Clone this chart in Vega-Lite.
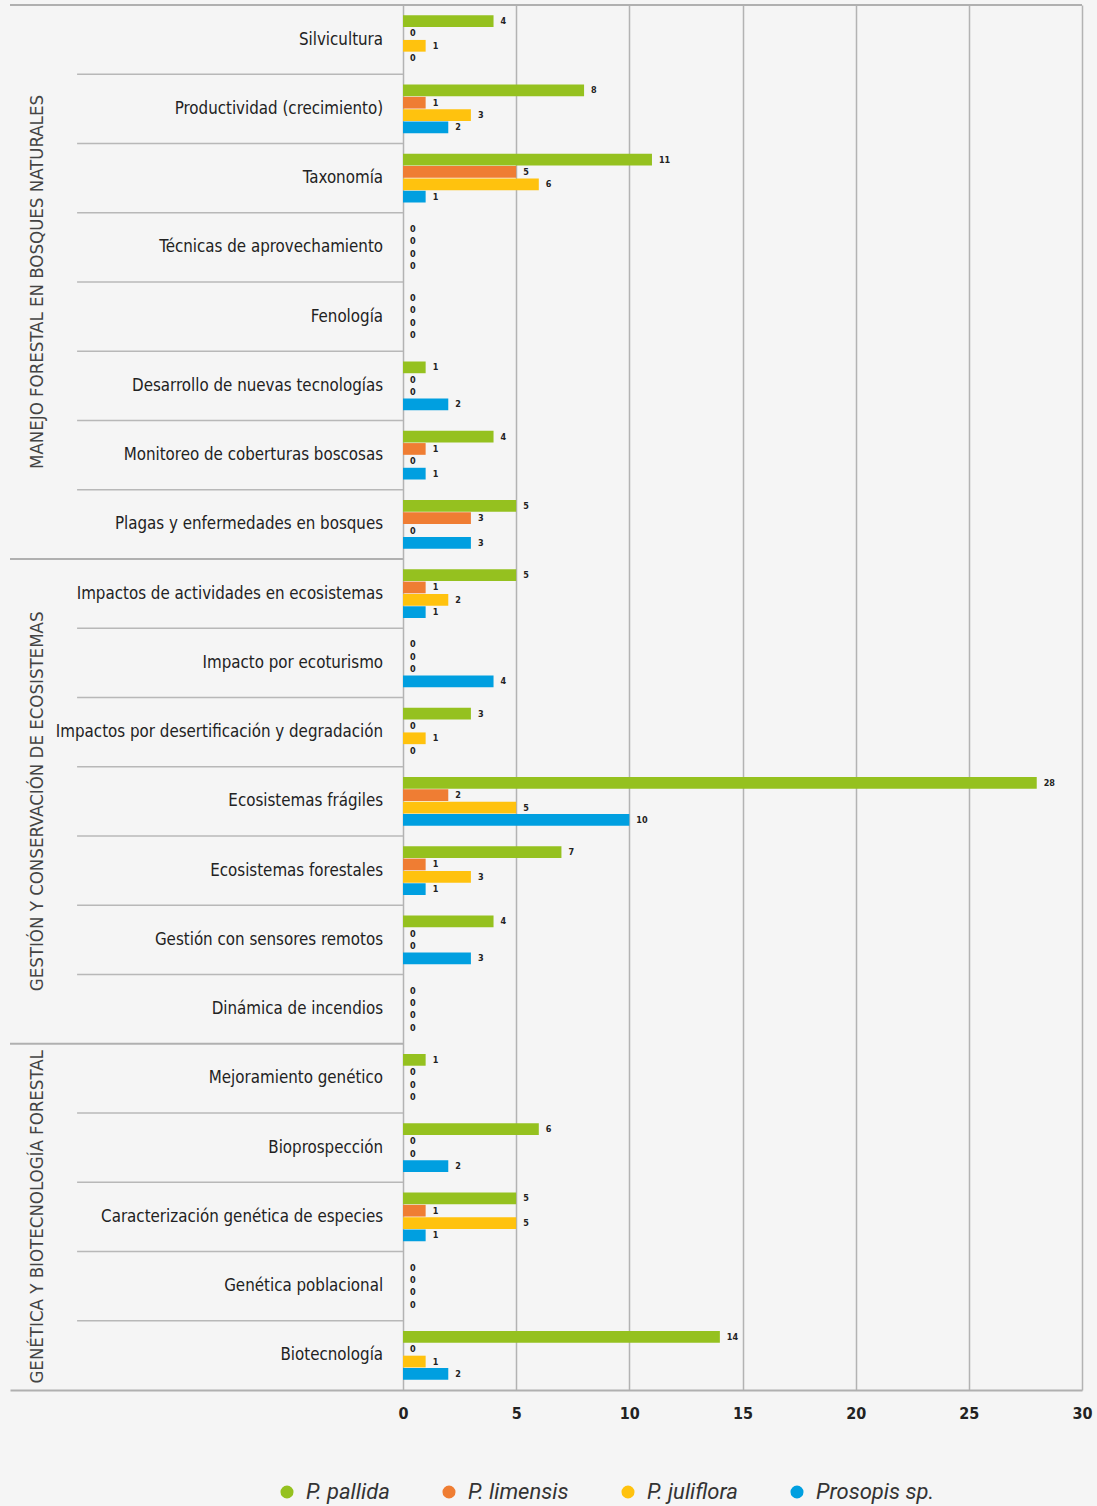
{
  "$schema": "https://vega.github.io/schema/vega-lite/v6.json",
  "width": 1072,
  "height": 1385,
  "autosize": {"type": "none"},
  "padding": {"left": 10, "top": 5, "right": 15, "bottom": 116},
  "background": "#f5f5f5",
  "config": {"view": {"stroke": null}, "font": "DejaVu Sans Condensed, Roboto, sans-serif"},
  "datasets": {
    "barras": [
      {"categoria": "Silvicultura", "especie": "P. pallida", "valor": 4},
      {"categoria": "Silvicultura", "especie": "P. limensis", "valor": 0},
      {"categoria": "Silvicultura", "especie": "P. juliflora", "valor": 1},
      {"categoria": "Silvicultura", "especie": "Prosopis sp.", "valor": 0},
      {"categoria": "Productividad (crecimiento)", "especie": "P. pallida", "valor": 8},
      {"categoria": "Productividad (crecimiento)", "especie": "P. limensis", "valor": 1},
      {"categoria": "Productividad (crecimiento)", "especie": "P. juliflora", "valor": 3},
      {"categoria": "Productividad (crecimiento)", "especie": "Prosopis sp.", "valor": 2},
      {"categoria": "Taxonomía", "especie": "P. pallida", "valor": 11},
      {"categoria": "Taxonomía", "especie": "P. limensis", "valor": 5},
      {"categoria": "Taxonomía", "especie": "P. juliflora", "valor": 6},
      {"categoria": "Taxonomía", "especie": "Prosopis sp.", "valor": 1},
      {"categoria": "Técnicas de aprovechamiento", "especie": "P. pallida", "valor": 0},
      {"categoria": "Técnicas de aprovechamiento", "especie": "P. limensis", "valor": 0},
      {"categoria": "Técnicas de aprovechamiento", "especie": "P. juliflora", "valor": 0},
      {"categoria": "Técnicas de aprovechamiento", "especie": "Prosopis sp.", "valor": 0},
      {"categoria": "Fenología", "especie": "P. pallida", "valor": 0},
      {"categoria": "Fenología", "especie": "P. limensis", "valor": 0},
      {"categoria": "Fenología", "especie": "P. juliflora", "valor": 0},
      {"categoria": "Fenología", "especie": "Prosopis sp.", "valor": 0},
      {"categoria": "Desarrollo de nuevas tecnologías", "especie": "P. pallida", "valor": 1},
      {"categoria": "Desarrollo de nuevas tecnologías", "especie": "P. limensis", "valor": 0},
      {"categoria": "Desarrollo de nuevas tecnologías", "especie": "P. juliflora", "valor": 0},
      {"categoria": "Desarrollo de nuevas tecnologías", "especie": "Prosopis sp.", "valor": 2},
      {"categoria": "Monitoreo de coberturas boscosas", "especie": "P. pallida", "valor": 4},
      {"categoria": "Monitoreo de coberturas boscosas", "especie": "P. limensis", "valor": 1},
      {"categoria": "Monitoreo de coberturas boscosas", "especie": "P. juliflora", "valor": 0},
      {"categoria": "Monitoreo de coberturas boscosas", "especie": "Prosopis sp.", "valor": 1},
      {"categoria": "Plagas y enfermedades en bosques", "especie": "P. pallida", "valor": 5},
      {"categoria": "Plagas y enfermedades en bosques", "especie": "P. limensis", "valor": 3},
      {"categoria": "Plagas y enfermedades en bosques", "especie": "P. juliflora", "valor": 0},
      {"categoria": "Plagas y enfermedades en bosques", "especie": "Prosopis sp.", "valor": 3},
      {"categoria": "Impactos de actividades en ecosistemas", "especie": "P. pallida", "valor": 5},
      {"categoria": "Impactos de actividades en ecosistemas", "especie": "P. limensis", "valor": 1},
      {"categoria": "Impactos de actividades en ecosistemas", "especie": "P. juliflora", "valor": 2},
      {"categoria": "Impactos de actividades en ecosistemas", "especie": "Prosopis sp.", "valor": 1},
      {"categoria": "Impacto por ecoturismo", "especie": "P. pallida", "valor": 0},
      {"categoria": "Impacto por ecoturismo", "especie": "P. limensis", "valor": 0},
      {"categoria": "Impacto por ecoturismo", "especie": "P. juliflora", "valor": 0},
      {"categoria": "Impacto por ecoturismo", "especie": "Prosopis sp.", "valor": 4},
      {"categoria": "Impactos por desertificación y degradación", "especie": "P. pallida", "valor": 3},
      {"categoria": "Impactos por desertificación y degradación", "especie": "P. limensis", "valor": 0},
      {"categoria": "Impactos por desertificación y degradación", "especie": "P. juliflora", "valor": 1},
      {"categoria": "Impactos por desertificación y degradación", "especie": "Prosopis sp.", "valor": 0},
      {"categoria": "Ecosistemas frágiles", "especie": "P. pallida", "valor": 28},
      {"categoria": "Ecosistemas frágiles", "especie": "P. limensis", "valor": 2},
      {"categoria": "Ecosistemas frágiles", "especie": "P. juliflora", "valor": 5},
      {"categoria": "Ecosistemas frágiles", "especie": "Prosopis sp.", "valor": 10},
      {"categoria": "Ecosistemas forestales", "especie": "P. pallida", "valor": 7},
      {"categoria": "Ecosistemas forestales", "especie": "P. limensis", "valor": 1},
      {"categoria": "Ecosistemas forestales", "especie": "P. juliflora", "valor": 3},
      {"categoria": "Ecosistemas forestales", "especie": "Prosopis sp.", "valor": 1},
      {"categoria": "Gestión con sensores remotos", "especie": "P. pallida", "valor": 4},
      {"categoria": "Gestión con sensores remotos", "especie": "P. limensis", "valor": 0},
      {"categoria": "Gestión con sensores remotos", "especie": "P. juliflora", "valor": 0},
      {"categoria": "Gestión con sensores remotos", "especie": "Prosopis sp.", "valor": 3},
      {"categoria": "Dinámica de incendios", "especie": "P. pallida", "valor": 0},
      {"categoria": "Dinámica de incendios", "especie": "P. limensis", "valor": 0},
      {"categoria": "Dinámica de incendios", "especie": "P. juliflora", "valor": 0},
      {"categoria": "Dinámica de incendios", "especie": "Prosopis sp.", "valor": 0},
      {"categoria": "Mejoramiento genético", "especie": "P. pallida", "valor": 1},
      {"categoria": "Mejoramiento genético", "especie": "P. limensis", "valor": 0},
      {"categoria": "Mejoramiento genético", "especie": "P. juliflora", "valor": 0},
      {"categoria": "Mejoramiento genético", "especie": "Prosopis sp.", "valor": 0},
      {"categoria": "Bioprospección", "especie": "P. pallida", "valor": 6},
      {"categoria": "Bioprospección", "especie": "P. limensis", "valor": 0},
      {"categoria": "Bioprospección", "especie": "P. juliflora", "valor": 0},
      {"categoria": "Bioprospección", "especie": "Prosopis sp.", "valor": 2},
      {"categoria": "Caracterización genética de especies", "especie": "P. pallida", "valor": 5},
      {"categoria": "Caracterización genética de especies", "especie": "P. limensis", "valor": 1},
      {"categoria": "Caracterización genética de especies", "especie": "P. juliflora", "valor": 5},
      {"categoria": "Caracterización genética de especies", "especie": "Prosopis sp.", "valor": 1},
      {"categoria": "Genética poblacional", "especie": "P. pallida", "valor": 0},
      {"categoria": "Genética poblacional", "especie": "P. limensis", "valor": 0},
      {"categoria": "Genética poblacional", "especie": "P. juliflora", "valor": 0},
      {"categoria": "Genética poblacional", "especie": "Prosopis sp.", "valor": 0},
      {"categoria": "Biotecnología", "especie": "P. pallida", "valor": 14},
      {"categoria": "Biotecnología", "especie": "P. limensis", "valor": 0},
      {"categoria": "Biotecnología", "especie": "P. juliflora", "valor": 1},
      {"categoria": "Biotecnología", "especie": "Prosopis sp.", "valor": 2}
    ],
    "categorias": [
      {"categoria": "Silvicultura", "borde": "superior"},
      {"categoria": "Productividad (crecimiento)", "borde": "fino"},
      {"categoria": "Taxonomía", "borde": "fino"},
      {"categoria": "Técnicas de aprovechamiento", "borde": "fino"},
      {"categoria": "Fenología", "borde": "fino"},
      {"categoria": "Desarrollo de nuevas tecnologías", "borde": "fino"},
      {"categoria": "Monitoreo de coberturas boscosas", "borde": "fino"},
      {"categoria": "Plagas y enfermedades en bosques", "borde": "fino"},
      {"categoria": "Impactos de actividades en ecosistemas", "borde": "grupo"},
      {"categoria": "Impacto por ecoturismo", "borde": "fino"},
      {"categoria": "Impactos por desertificación y degradación", "borde": "fino"},
      {"categoria": "Ecosistemas frágiles", "borde": "fino"},
      {"categoria": "Ecosistemas forestales", "borde": "fino"},
      {"categoria": "Gestión con sensores remotos", "borde": "fino"},
      {"categoria": "Dinámica de incendios", "borde": "fino"},
      {"categoria": "Mejoramiento genético", "borde": "grupo"},
      {"categoria": "Bioprospección", "borde": "fino"},
      {"categoria": "Caracterización genética de especies", "borde": "fino"},
      {"categoria": "Genética poblacional", "borde": "fino"},
      {"categoria": "Biotecnología", "borde": "fino"}
    ],
    "grupos": [
      {"grupo": "MANEJO FORESTAL EN BOSQUES NATURALES", "centro": "Fenología", "par": true},
      {"grupo": "GESTIÓN Y CONSERVACIÓN DE ECOSISTEMAS", "centro": "Ecosistemas frágiles", "par": false},
      {"grupo": "GENÉTICA Y BIOTECNOLOGÍA FORESTAL", "centro": "Caracterización genética de especies", "par": false}
    ]
  },
  "layer": [
    {
      "data": {"name": "categorias"},
      "transform": [{"filter": "datum.borde === 'fino'"}],
      "mark": {"type": "rule", "stroke": "#b8b8b8", "strokeWidth": 1.5},
      "encoding": {
        "y": {"field": "categoria", "type": "nominal", "bandPosition": 0,
          "scale": {"domain": ["Silvicultura", "Productividad (crecimiento)", "Taxonomía", "Técnicas de aprovechamiento", "Fenología", "Desarrollo de nuevas tecnologías", "Monitoreo de coberturas boscosas", "Plagas y enfermedades en bosques", "Impactos de actividades en ecosistemas", "Impacto por ecoturismo", "Impactos por desertificación y degradación", "Ecosistemas frágiles", "Ecosistemas forestales", "Gestión con sensores remotos", "Dinámica de incendios", "Mejoramiento genético", "Bioprospección", "Caracterización genética de especies", "Genética poblacional", "Biotecnología"], "paddingInner": 0, "paddingOuter": 0},
          "axis": null},
        "x": {"datum": -14.4, "type": "quantitative"},
        "x2": {"datum": 0}
      }
    },
    {
      "data": {"name": "categorias"},
      "transform": [{"filter": "datum.borde === 'grupo'"}],
      "mark": {"type": "rule", "stroke": "#b0b0b0", "strokeWidth": 2},
      "encoding": {
        "y": {"field": "categoria", "type": "nominal", "bandPosition": 0, "axis": null},
        "x": {"datum": -17.364, "type": "quantitative"},
        "x2": {"datum": 0}
      }
    },
    {
      "data": {"name": "categorias"},
      "transform": [{"filter": "datum.borde === 'superior'"}],
      "mark": {"type": "rule", "stroke": "#b0b0b0", "strokeWidth": 2},
      "encoding": {
        "y": {"field": "categoria", "type": "nominal", "bandPosition": 0, "axis": null},
        "x": {"datum": -17.364, "type": "quantitative"},
        "x2": {"datum": 30}
      }
    },
    {
      "data": {"name": "barras"},
      "mark": {"type": "bar"},
      "encoding": {
        "y": {"field": "categoria", "type": "nominal", "axis": null},
        "yOffset": {"field": "especie", "type": "nominal",
          "scale": {"domain": ["P. pallida", "P. limensis", "P. juliflora", "Prosopis sp."], "paddingInner": 0.05, "paddingOuter": 0.83}},
        "x": {"field": "valor", "type": "quantitative",
          "scale": {"domain": [-17.364, 30], "nice": false, "zero": false},
          "axis": {"values": [0, 5, 10, 15, 20, 25, 30], "title": null, "grid": true, "gridColor": "#b3b3b3", "gridWidth": 1.5,
            "domainColor": "#b0b0b0", "domainWidth": 2, "ticks": false, "labelFont": "DejaVu Sans Condensed, Roboto, sans-serif", "labelFontWeight": "bold",
            "labelFontSize": 16, "labelColor": "#222222", "labelPadding": 15, "labelFlush": false, "labelOverlap": false}},
        "color": {"field": "especie", "type": "nominal",
          "scale": {"domain": ["P. pallida", "P. limensis", "P. juliflora", "Prosopis sp."], "range": ["#95c11f", "#ef7d33", "#ffc20e", "#009fe0"]},
          "legend": {"orient": "none", "legendX": 266, "legendY": 1476, "direction": "horizontal", "columns": 4, "title": null,
            "symbolType": "circle", "symbolSize": 170, "symbolStrokeWidth": 0, "labelFont": "Roboto", "labelFontStyle": "italic",
            "labelFontSize": 22, "labelColor": "#333333", "columnPadding": 48, "labelOffset": 8, "padding": 0}}
      }
    },
    {
      "data": {"name": "barras"},
      "mark": {"type": "text", "align": "left", "baseline": "middle", "dx": 7, "fontSize": 9, "fontWeight": "bold", "color": "#222222", "font": "DejaVu Sans Condensed, Roboto, sans-serif"},
      "encoding": {
        "y": {"field": "categoria", "type": "nominal", "axis": null},
        "yOffset": {"field": "especie", "type": "nominal"},
        "x": {"field": "valor", "type": "quantitative"},
        "text": {"field": "valor", "type": "quantitative"}
      }
    },
    {
      "data": {"name": "categorias"},
      "mark": {"type": "text", "align": "right", "baseline": "middle", "fontSize": 16.8, "color": "#222222", "font": "DejaVu Sans Condensed, Roboto, sans-serif"},
      "encoding": {
        "y": {"field": "categoria", "type": "nominal", "axis": null},
        "x": {"datum": -0.88, "type": "quantitative"},
        "text": {"field": "categoria", "type": "nominal"}
      }
    },
    {
      "data": {"name": "grupos"},
      "transform": [{"filter": "datum.par"}],
      "mark": {"type": "text", "align": "center", "baseline": "middle", "angle": 270, "fontSize": 18.5, "color": "#444444", "font": "DejaVu Sans Condensed, Roboto, sans-serif"},
      "encoding": {
        "y": {"field": "centro", "type": "nominal", "bandPosition": 0, "axis": null},
        "x": {"datum": -16.17, "type": "quantitative"},
        "text": {"field": "grupo", "type": "nominal"}
      }
    },
    {
      "data": {"name": "grupos"},
      "transform": [{"filter": "!datum.par"}],
      "mark": {"type": "text", "align": "center", "baseline": "middle", "angle": 270, "fontSize": 18.5, "color": "#444444", "font": "DejaVu Sans Condensed, Roboto, sans-serif"},
      "encoding": {
        "y": {"field": "centro", "type": "nominal", "axis": null},
        "x": {"datum": -16.17, "type": "quantitative"},
        "text": {"field": "grupo", "type": "nominal"}
      }
    }
  ]
}
